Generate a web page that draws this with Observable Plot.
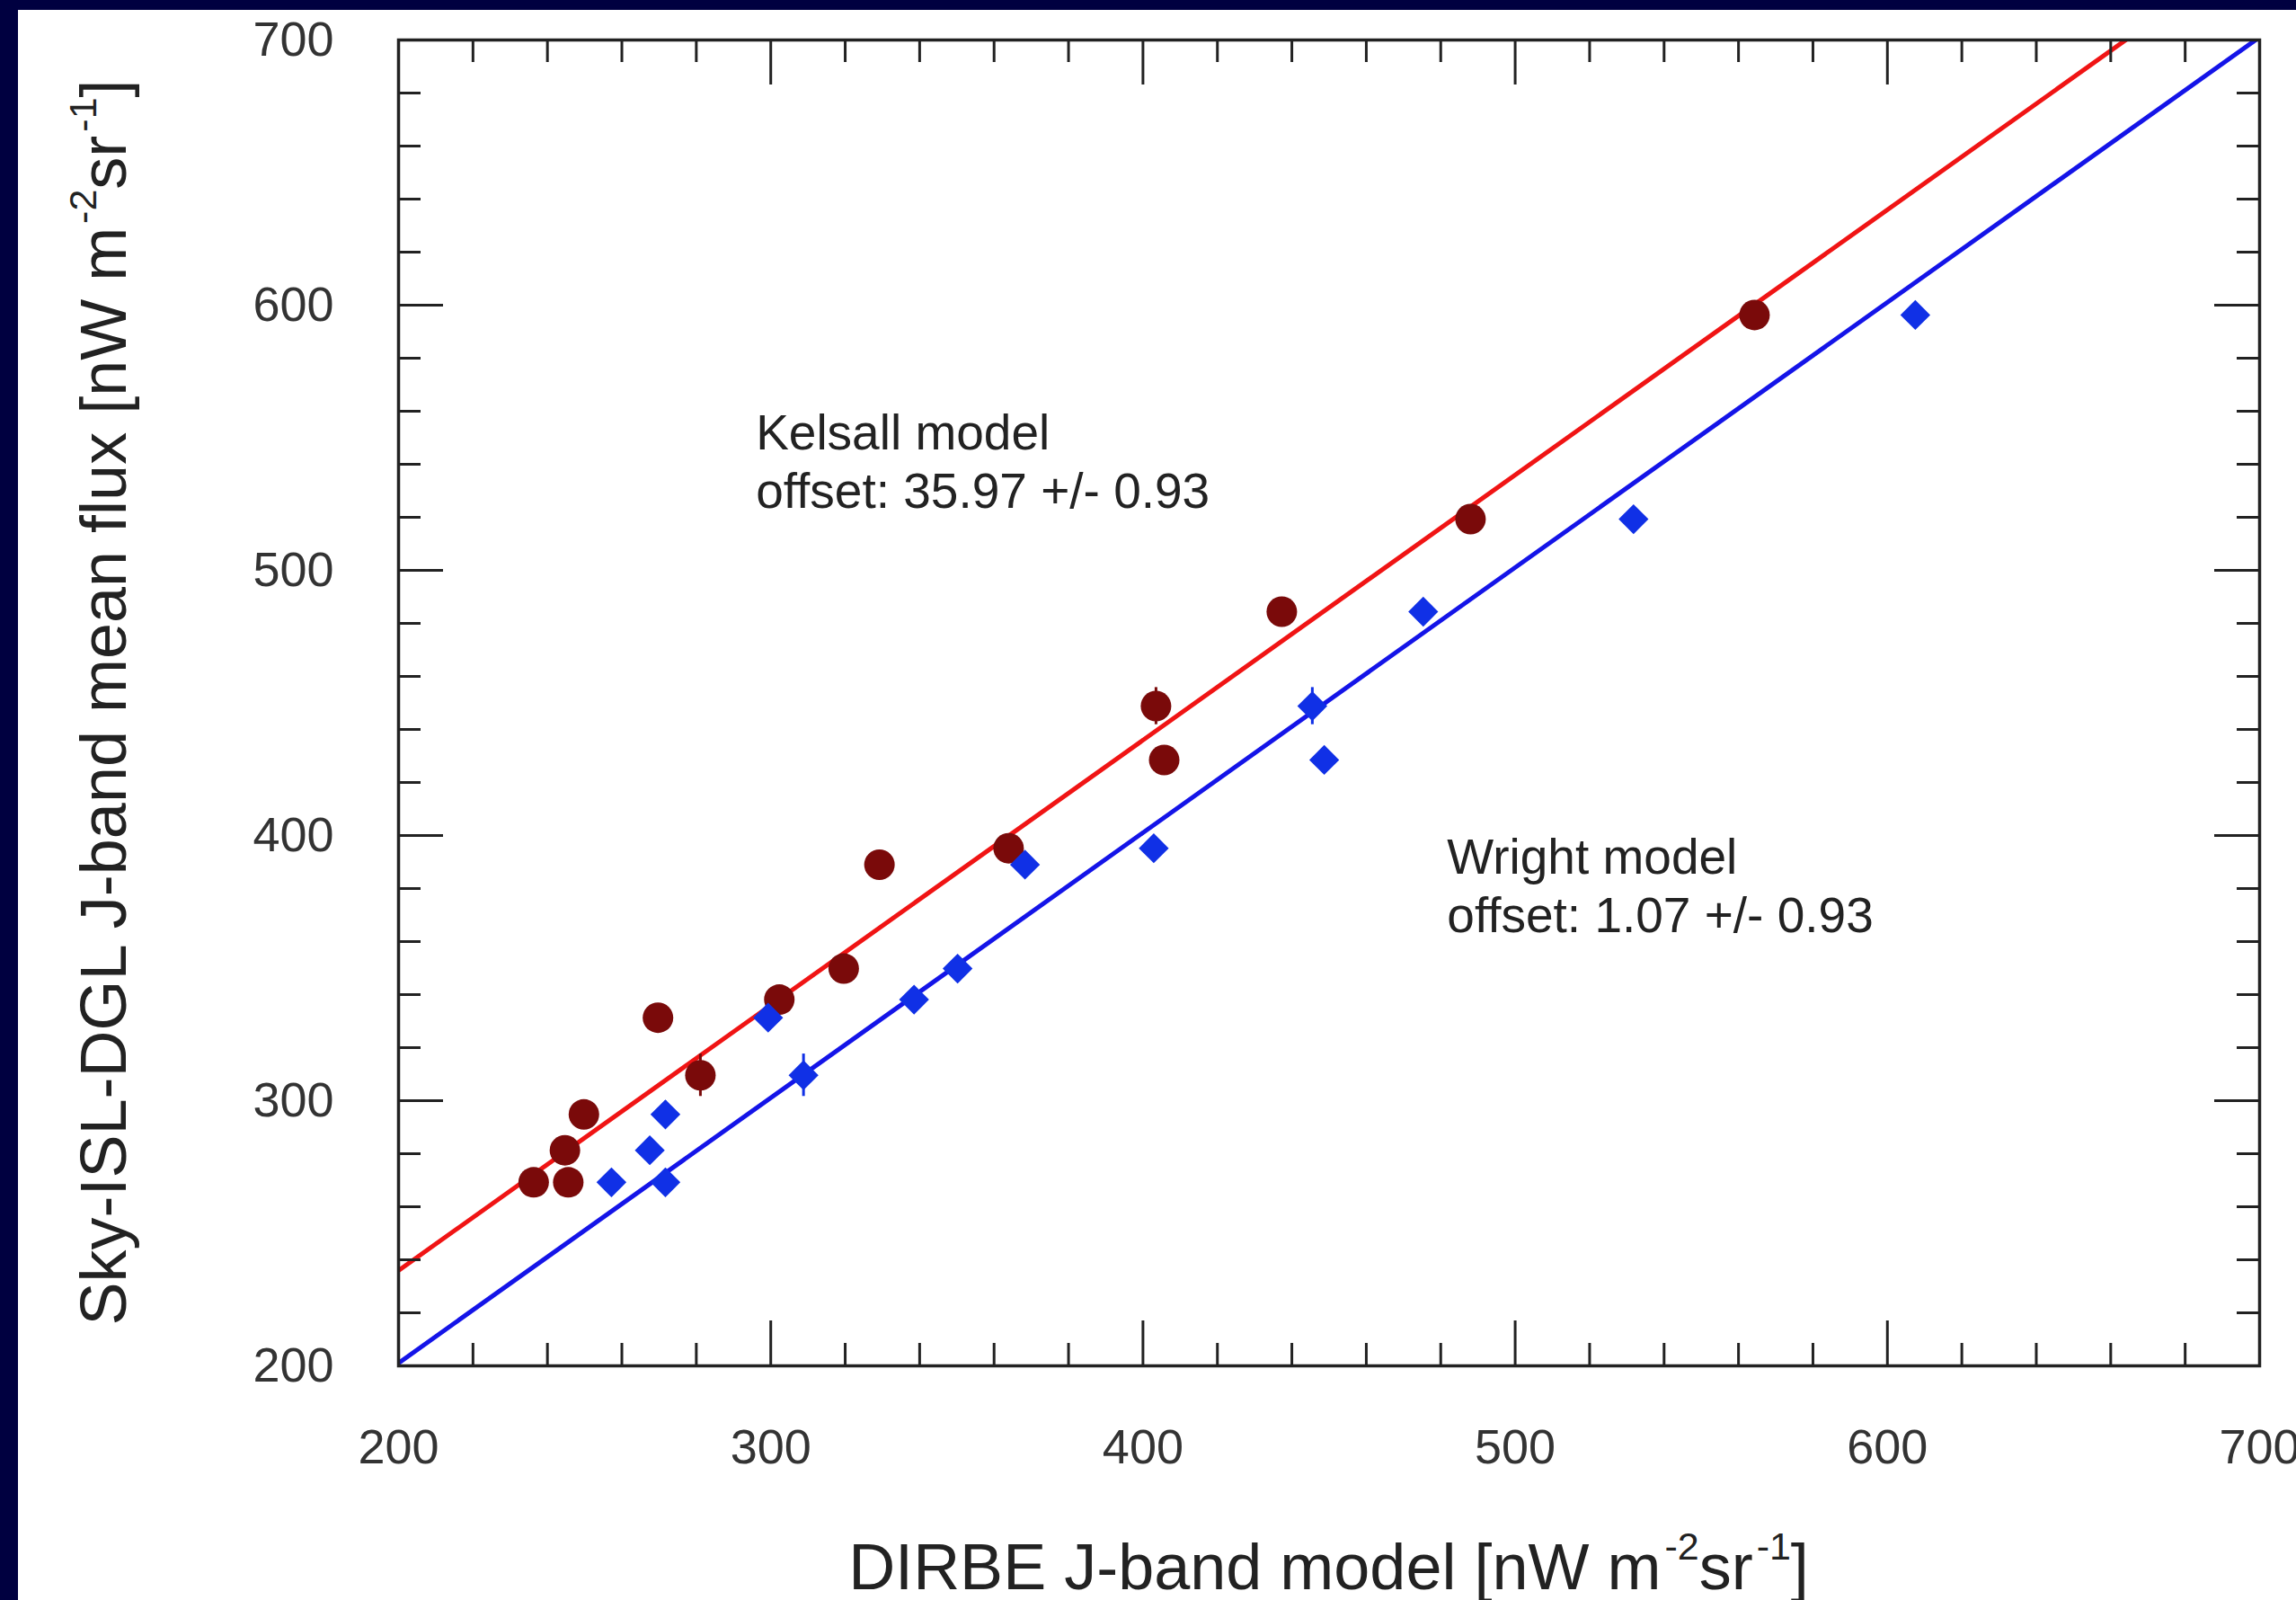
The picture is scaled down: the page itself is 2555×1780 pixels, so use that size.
<!DOCTYPE html>
<html>
<head>
<meta charset="utf-8">
<script src="https://cdn.jsdelivr.net/npm/d3@7"></script>
<script src="https://cdn.jsdelivr.net/npm/@observablehq/plot@0.6"></script>
<style>
  html, body { margin: 0; padding: 0; width: 2555px; height: 1780px; overflow: hidden; background: #000040; }
  #chart { position: absolute; left: 20px; top: 11px; }
</style>
</head>
<body>
<div id="chart"></div>
<script>
// Sky-ISL-DGL J-band mean flux of each field (shared by both zodiacal models)
const skyFlux  = [269.2, 269.2, 281.3, 294.8, 331.3, 309.6, 338.1, 349.8, 389.0, 395.2, 448.8, 428.5, 484.4, 519.3, 596.3];
const skyErr   = [3, 3, 3, 5, 3, 8, 3, 3, 3, 3, 7, 3, 3, 3, 3];
// DIRBE J-band model brightness for the same fields
const kelsallX = [236.3, 245.6, 244.7, 249.8, 269.7, 281.1, 302.3, 319.6, 329.2, 363.9, 403.5, 405.7, 437.3, 488.0, 564.3];
const wrightX  = [257.2, 271.7, 267.5, 271.7, 299.3, 308.8, 338.5, 350.2, 368.3, 402.9, 445.5, 448.7, 475.3, 531.8, 607.5];

// unit-slope fits: flux = model + offset
const kelsallOffset = 35.97;
const wrightOffset  = 1.07;
const offsetErr     = 0.93;
const fitRange      = [200, 700];

// axis ticks
const xMajor = [200, 300, 400, 500, 600, 700];
const yMajor = [200, 300, 400, 500, 600, 700];
const minorTicks = d3.range(200, 701, 20).filter(v => v % 100 !== 0);

const W = 2535, H = 1769;
const margin = {top: 33, right: 41, bottom: 261, left: 423};
const innerW = W - margin.left - margin.right;
const innerH = H - margin.top - margin.bottom;
const ink = "#222";
const font = "'Liberation Sans', Arial, Helvetica, sans-serif";

const points = skyFlux.map((y, i) => ({y, err: skyErr[i], kelsall: kelsallX[i], wright: wrightX[i]}));
const fitLine = offset => fitRange.map(x => ({x, y: x + offset}));

// inward ticks on all four sides of the frame
const tickRules = (values, len) => [
  Plot.ruleX(values, {x: d => d, insetTop: innerH - len, stroke: ink, strokeWidth: 3}),
  Plot.ruleX(values, {x: d => d, insetBottom: innerH - len, stroke: ink, strokeWidth: 3}),
  Plot.ruleY(values, {y: d => d, insetRight: innerW - len, stroke: ink, strokeWidth: 3}),
  Plot.ruleY(values, {y: d => d, insetLeft: innerW - len, stroke: ink, strokeWidth: 3})
];

const chart = Plot.plot({
  width: W,
  height: H,
  marginTop: margin.top,
  marginRight: margin.right,
  marginBottom: margin.bottom,
  marginLeft: margin.left,
  style: {background: "#fff", fontFamily: font, overflow: "visible"},
  x: {domain: [200, 700]},
  y: {domain: [200, 700]},
  marks: [
    Plot.line(fitLine(kelsallOffset), {x: "x", y: "y", stroke: "#f01414", strokeWidth: 5, clip: true}),
    Plot.line(fitLine(wrightOffset), {x: "x", y: "y", stroke: "#1414e8", strokeWidth: 5, clip: true}),
    Plot.ruleX(points, {x: "kelsall", y1: d => d.y - d.err, y2: d => d.y + d.err, stroke: "#7a0a0a", strokeWidth: 3}),
    Plot.ruleX(points, {x: "wright", y1: d => d.y - d.err, y2: d => d.y + d.err, stroke: "#1030e6", strokeWidth: 3}),
    Plot.dot(points, {x: "kelsall", y: "y", r: 17, fill: "#7a0a0a", symbol: "circle"}),
    Plot.dot(points, {x: "wright", y: "y", r: 15, fill: "#1030e6", symbol: "diamond2"}),
    Plot.frame({stroke: ink, strokeWidth: 3.5}),
    ...tickRules(xMajor, 50),
    ...tickRules(minorTicks, 25),
    Plot.axisX({ticks: xMajor, tickSize: 0, tickPadding: 70, fontSize: 54, label: null, color: "#333"}),
    Plot.axisY({ticks: yMajor, tickSize: 0, tickPadding: 72, fontSize: 54, label: null, color: "#333"}),
    Plot.text([`Kelsall model\noffset: ${kelsallOffset.toFixed(2)} +/- ${offsetErr.toFixed(2)}`],
      {x: 296, y: 561, text: d => d, textAnchor: "start", lineAnchor: "top", lineHeight: 1.17, fontSize: 55, fill: ink}),
    Plot.text([`Wright model\noffset: ${wrightOffset.toFixed(2)} +/- ${offsetErr.toFixed(2)}`],
      {x: 481.7, y: 401, text: d => d, textAnchor: "start", lineAnchor: "top", lineHeight: 1.17, fontSize: 55, fill: ink})
  ]
});
document.getElementById("chart").appendChild(chart);

// axis titles with raised exponents
function unitTitle(g, base) {
  const size = 72, supSize = 43, raise = 33;
  const t = g.append("text")
    .attr("text-anchor", "middle")
    .attr("font-family", font)
    .attr("font-size", size)
    .attr("fill", ink);
  t.append("tspan").text(base + " [nW m");
  t.append("tspan").attr("font-size", supSize).attr("dx", 4).attr("dy", -raise).text("-2");
  t.append("tspan").attr("dy", raise).text("sr");
  t.append("tspan").attr("font-size", supSize).attr("dx", 4).attr("dy", -raise).text("-1");
  t.append("tspan").attr("dy", raise).text("]");
  return t;
}
const svg = d3.select(chart);
unitTitle(svg.append("g").attr("transform", `translate(${margin.left + innerW / 2},1757)`), "DIRBE J-band model");
unitTitle(svg.append("g").attr("transform", `translate(120,${margin.top + innerH / 2}) rotate(-90)`), "Sky-ISL-DGL J-band mean flux");
</script>
</body>
</html>
